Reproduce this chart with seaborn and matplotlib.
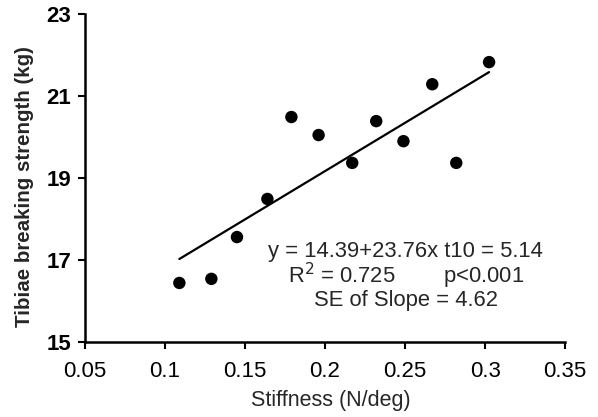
import numpy as np
import pandas as pd
import matplotlib
matplotlib.use("Agg")
import matplotlib.pyplot as plt
import seaborn as sns

# valeurs
stiffness = [0.109, 0.129, 0.145, 0.164, 0.179, 0.196, 0.217, 0.232, 0.249, 0.267, 0.282, 0.3025]
strength = [16.44, 16.54, 17.56, 18.49, 20.49, 20.05, 19.37, 20.39, 19.90, 21.29, 19.37, 21.83]
x_ticks = [0.05, 0.1, 0.15, 0.2, 0.25, 0.3, 0.35]
x_tick_labels = ["0.05", "0.1", "0.15", "0.2", "0.25", "0.3", "0.35"]
y_ticks = [15, 17, 19, 21, 23]
stats_lines = ["y = 14.39+23.76x t10 = 5.14",
               "R$^{2}$ = 0.725        p<0.001",
               "SE of Slope = 4.62"]

df = pd.DataFrame({"stiffness": stiffness, "strength": strength})

sns.set_style("ticks")
plt.rcParams["font.family"] = ["Liberation Sans", "DejaVu Sans"]

fig = plt.figure(figsize=(5.98, 4.17), dpi=100)
ax = fig.add_axes([0.142, 0.180, 0.803, 0.786])

sns.regplot(data=df, x="stiffness", y="strength", ax=ax, ci=None, color="black",
            scatter_kws={"s": 80, "edgecolor": "none", "alpha": 1},
            line_kws={"linewidth": 1.6})

ax.set_xlim(0.05, 0.35)
ax.set_ylim(15, 23)
ax.set_xticks(x_ticks)
ax.set_xticklabels(x_tick_labels, fontsize=16)
ax.set_yticks(y_ticks)
ax.set_yticklabels([str(v) for v in y_ticks], fontsize=16, fontweight="bold")
ax.tick_params(direction="out", length=5, width=1.5, colors="black")
ax.tick_params(axis="x", pad=9)
ax.tick_params(axis="y", pad=5)
for side in ["left", "bottom"]:
    ax.spines[side].set_linewidth(1.8)
    ax.spines[side].set_color("black")
sns.despine(ax=ax)

ax.set_xlabel("Stiffness (N/deg)", fontsize=15.5)
ax.set_ylabel("Tibiae breaking strength (kg)", fontsize=14.8, fontweight="bold")
ax.xaxis.set_label_coords(0.5125, -0.148)
ax.yaxis.set_label_coords(-0.106, 0.473)

for i, line in enumerate(stats_lines):
    ax.text(0.2505, 17.2 - i * 0.59, line, ha="center", va="center", fontsize=15.8)

fig.savefig("out.png", dpi=100)
